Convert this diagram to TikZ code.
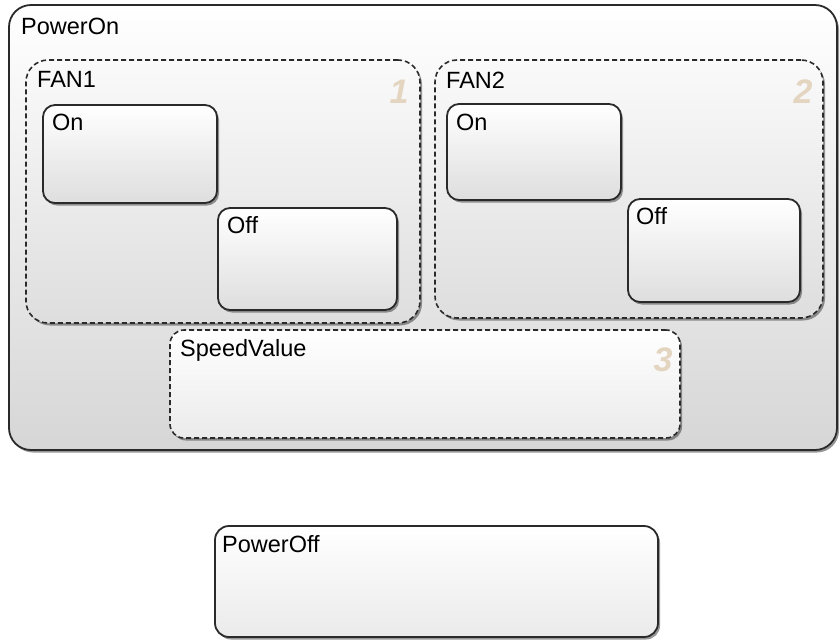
\documentclass[tikz,border=0pt]{standalone}
\usepackage{fontspec}
\setmainfont{Liberation Sans}
\usetikzlibrary{shadows}
\definecolor{edge}{HTML}{2A2A2A}
\definecolor{numc}{HTML}{E4D5C1}
\begin{document}
\begin{tikzpicture}[x=1pt,y=-1pt,
  box/.style={draw=edge, line width=1.8pt, inner sep=0pt, outer sep=0pt, anchor=north west,
    top color=white, bottom color=black!13,
    drop shadow={shadow xshift=2pt, shadow yshift=-2.5pt, opacity=0.55, fill=black!75}},
  superbox/.style={box, rounded corners=22pt},
  leafbox/.style={box, rounded corners=12pt},
  dashbox/.style={box, dash pattern=on 5pt off 3pt, line width=1.6pt},
  lbl/.style={anchor=base west, inner sep=0pt, font=\fontsize{23.5}{26}\selectfont, text=black},
  num/.style={anchor=center, inner sep=0pt, font=\fontsize{34}{36}\selectfont\bfseries\itshape, text=numc}]
\useasboundingbox (0,0) rectangle (840,641);

\node[superbox, minimum width=828pt, minimum height=445pt, top color=white, bottom color=black!16] (poweron) at (9,5) {};
\node[lbl] (poweronlbl) at (21,34) {PowerOn};

\node[dashbox, rounded corners=22pt, minimum width=394pt, minimum height=263pt, top color=black!2, bottom color=black!13] (fan1) at (26,60) {};
\node[lbl] (fan1lbl) at (37,87) {FAN1};
\node[num] (fan1num) at (399,92) {1};
\node[leafbox, minimum width=174pt, minimum height=98pt] (fan1on) at (43,105) {};
\node[lbl] (fan1onlbl) at (52,130) {On};
\node[leafbox, minimum width=179pt, minimum height=102pt] (fan1off) at (218,208) {};
\node[lbl] (fan1offlbl) at (227,233) {Off};

\node[dashbox, rounded corners=22pt, minimum width=388pt, minimum height=258pt, top color=black!2, bottom color=black!13] (fan2) at (435,60) {};
\node[lbl] (fan2lbl) at (446,88) {FAN2};
\node[num] (fan2num) at (803,92) {2};
\node[leafbox, minimum width=174pt, minimum height=96pt] (fan2on) at (447,104) {};
\node[lbl] (fan2onlbl) at (456,130) {On};
\node[leafbox, minimum width=172pt, minimum height=103pt] (fan2off) at (628,199) {};
\node[lbl] (fan2offlbl) at (636,224) {Off};

\node[dashbox, rounded corners=14pt, minimum width=510pt, minimum height=108pt, top color=white, bottom color=black!8] (speed) at (170,330) {};
\node[lbl] (speedlbl) at (180,356) {SpeedValue};
\node[num] (speednum) at (663,360) {3};

\node[box, rounded corners=14pt, minimum width=443pt, minimum height=111pt, top color=white, bottom color=black!8] (poweroff) at (215,526) {};
\node[lbl] (powerofflbl) at (222,552) {PowerOff};
\end{tikzpicture}
\end{document}
